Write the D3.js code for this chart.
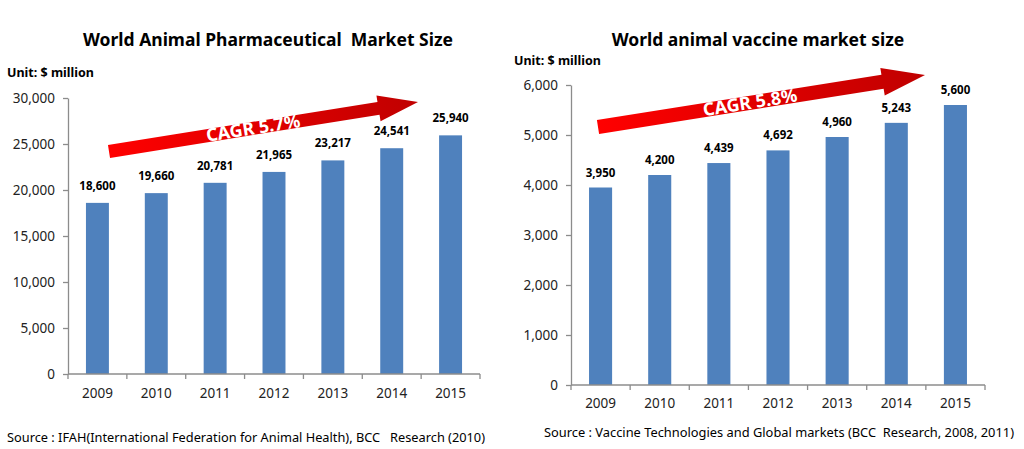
<!DOCTYPE html>
<html><head><meta charset="utf-8">
<script src="https://cdn.jsdelivr.net/npm/d3@7"></script>
<style>
html,body{margin:0;padding:0;background:#fff;}
svg{display:block;font-family:"Noto Sans","Open Sans",sans-serif;}
</style></head>
<body>
<svg id="c" width="1024" height="449"></svg>
<script>
const years = ["2009","2010","2011","2012","2013","2014","2015"];
const pharmaValues = [18600,19660,20781,21965,23217,24541,25940];
const vaccineValues = [3950,4200,4439,4692,4960,5243,5600];
const pharmaTicks = [0,5000,10000,15000,20000,25000,30000];
const vaccineTicks = [0,1000,2000,3000,4000,5000,6000];
const pharmaTitle = "World Animal Pharmaceutical\u00A0\u00A0Market Size";
const vaccineTitle = "World animal vaccine market size";
const unitLabel = "Unit: $ million";
const pharmaCagr = "CAGR 5.7%";
const vaccineCagr = "CAGR 5.8%";
const pharmaSource = "Source : IFAH(International Federation for Animal Health), BCC\u00A0\u00A0\u00A0Research (2010)";
const vaccineSource = "Source : Vaccine Technologies and Global markets (BCC\u00A0\u00A0Research, 2008, 2011)";

const svg = d3.select("#c");
const axisColor = "#8c8c8c";
const barColor = "#4f81bd";

const defs = svg.append("defs");
const grad = defs.append("linearGradient").attr("id","arrowGrad").attr("x1","0%").attr("x2","100%").attr("y1","0%").attr("y2","0%");
grad.append("stop").attr("offset","0%").attr("stop-color","#ff0000");
grad.append("stop").attr("offset","100%").attr("stop-color","#c00000");

function drawChart(cfg){
  const g = svg.append("g");
  const x = d3.scaleBand().domain(years).range([cfg.x0,cfg.x1]).paddingInner(0.61).paddingOuter(0.305);
  const y = d3.scaleLinear().domain([0,d3.max(cfg.ticks)]).range([cfg.y0,cfg.yTop]);

  // title
  g.append("text").attr("x",cfg.titleX).attr("y",cfg.titleY).attr("text-anchor","middle")
    .attr("font-size",17.5).attr("font-weight","bold").attr("fill","#000").text(cfg.title);
  g.append("text").attr("x",cfg.unitX).attr("y",cfg.unitY)
    .attr("font-size",12.5).attr("font-weight","bold").attr("fill","#000").text(unitLabel);

  // bars
  g.selectAll("rect.bar").data(cfg.values).enter().append("rect")
    .attr("x",(d,i)=>x(years[i])).attr("width",x.bandwidth())
    .attr("y",d=>y(d)).attr("height",d=>y(0)-y(d)).attr("fill",barColor);

  // value labels
  g.selectAll("text.val").data(cfg.values).enter().append("text")
    .attr("x",(d,i)=>x(years[i])+x.bandwidth()/2).attr("y",d=>y(d)-cfg.labelGap)
    .attr("text-anchor","middle").attr("font-size",11.5).attr("font-weight","bold").attr("fill","#000")
    .text(d=>d3.format(",")(d));

  // y axis
  const ya = g.append("g").attr("transform",`translate(${cfg.x0},0)`)
    .call(d3.axisLeft(y).tickValues(cfg.ticks).tickFormat(d3.format(",")).tickSize(5).tickSizeOuter(0).tickPadding(8));
  ya.select(".domain").attr("stroke",axisColor).attr("stroke-width",1.3);
  ya.selectAll(".tick line").attr("stroke",axisColor).attr("stroke-width",1.3);
  ya.selectAll(".tick text").attr("font-size",13.5).attr("fill","#222").attr("font-family","'Noto Sans',sans-serif");

  // x axis
  const xa = g.append("g").attr("transform",`translate(0,${cfg.y0})`);
  xa.append("line").attr("x1",cfg.x0).attr("x2",cfg.x1).attr("stroke",axisColor).attr("stroke-width",1.3);
  const bounds = years.map(c=>x(c)-x.step()*x.paddingInner()/2).concat([cfg.x1]);
  xa.selectAll("line.tk").data(bounds).enter().append("line")
    .attr("x1",d=>d).attr("x2",d=>d).attr("y1",0).attr("y2",5).attr("stroke",axisColor).attr("stroke-width",1.3);
  xa.selectAll("text.yr").data(years).enter().append("text")
    .attr("x",d=>x(d)+x.bandwidth()/2).attr("y",cfg.yearDy).attr("text-anchor","middle")
    .attr("font-size",13.5).attr("fill","#222").text(d=>d);

  // arrow
  const a = cfg.arrow;
  const ang = Math.atan2(a.tipY-a.tailY, a.tipX-a.tailX)*180/Math.PI;
  const len = Math.hypot(a.tipX-a.tailX, a.tipY-a.tailY);
  const ag = g.append("g").attr("transform",`translate(${a.tailX},${a.tailY}) rotate(${ang})`);
  const hb = len - a.headLen;
  const pts = [[0,-a.shaftW/2],[hb,-a.shaftW/2],[hb,-a.headW/2],[len,0],[hb,a.headW/2],[hb,a.shaftW/2],[0,a.shaftW/2]];
  ag.append("polygon").attr("points",pts.map(p=>p.join(",")).join(" ")).attr("fill","url(#arrowGrad)");
  ag.append("text").attr("x",a.textPos).attr("y",a.textDy).attr("text-anchor","middle")
    .attr("font-size",18).attr("font-weight","bold").attr("fill","#fff").text(cfg.cagr);

  // source
  g.append("text").attr("x",cfg.srcX).attr("y",cfg.srcY).attr("font-size",12.5).attr("fill","#000")
    .attr("textLength",cfg.srcW).attr("lengthAdjust","spacingAndGlyphs").text(cfg.source);
}

drawChart({title:pharmaTitle,titleX:268,titleY:46,unitX:7,unitY:77,
  values:pharmaValues,ticks:pharmaTicks,x0:68,x1:480,y0:374,yTop:98,labelGap:13,yearDy:24,
  cagr:pharmaCagr,arrow:{tailX:109,tailY:151.5,tipX:418,tipY:102,headLen:40,headW:26,shaftW:13,textPos:146,textDy:6},
  source:pharmaSource,srcX:7,srcY:442,srcW:478});

drawChart({title:vaccineTitle,titleX:758,titleY:46,unitX:514,unitY:65,
  values:vaccineValues,ticks:vaccineTicks,x0:571,x1:985,y0:385,yTop:85,labelGap:11,yearDy:23,
  cagr:vaccineCagr,arrow:{tailX:598,tailY:127,tipX:925,tipY:75,headLen:43,headW:28,shaftW:14,textPos:154,textDy:6},
  source:vaccineSource,srcX:544,srcY:437,srcW:470});
</script>
</body></html>
